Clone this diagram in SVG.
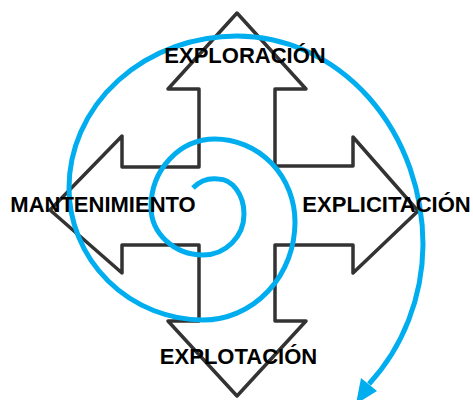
<svg xmlns="http://www.w3.org/2000/svg" width="473" height="400" viewBox="0 0 473 400">
<style>
.cross{fill:none;stroke:#333333;stroke-width:3.5;stroke-linejoin:round}
.spiral{fill:none;stroke:#00AEEF;stroke-width:5;stroke-linecap:butt}
.head{fill:#00AEEF}
.lbl{font-family:"Liberation Sans",Arial,sans-serif;font-weight:bold;font-size:22px;fill:#000;text-anchor:middle}
</style>
<rect width="473" height="400" fill="#fff"/>
<g id="cross">
<polygon class="cross" points="237,13 306,89 275,89 275,166 353,166 353,137 418,211 353,273 353,245 275,245 275,321 306,321 237,396 168,321 199,321 199,245 122,245 122,273 50,210 122,136 122,167 199,167 199,89 168,89"/>
</g>
<g id="connectors">
<path class="spiral" d="M193,188 A30,30 0 0 1 218,179 A26,35 0 0 1 244,214 A41,41 0 0 1 203,255 A52,48 0 0 1 151,207 A64,68 0 0 1 215,139 A80,83 0 0 1 295,222 A92,98 0 0 1 203,320 A135,132 0 0 1 69,188 A168,152 0 0 1 237,36 A186,209 0 0 1 423,245 A186,200 0 0 1 369,384"/>
<polygon class="head" points="377,391 356,404 361,378"/>
</g>
<g id="exploracion"><text class="lbl" x="245" y="63">EXPLORACIÓN</text></g>
<g id="mantenimiento"><text class="lbl" x="103" y="212">MANTENIMIENTO</text></g>
<g id="explicitacion"><text class="lbl" x="386.5" y="212">EXPLICITACIÓN</text></g>
<g id="explotacion"><text class="lbl" x="238.5" y="364">EXPLOTACIÓN</text></g>
</svg>
